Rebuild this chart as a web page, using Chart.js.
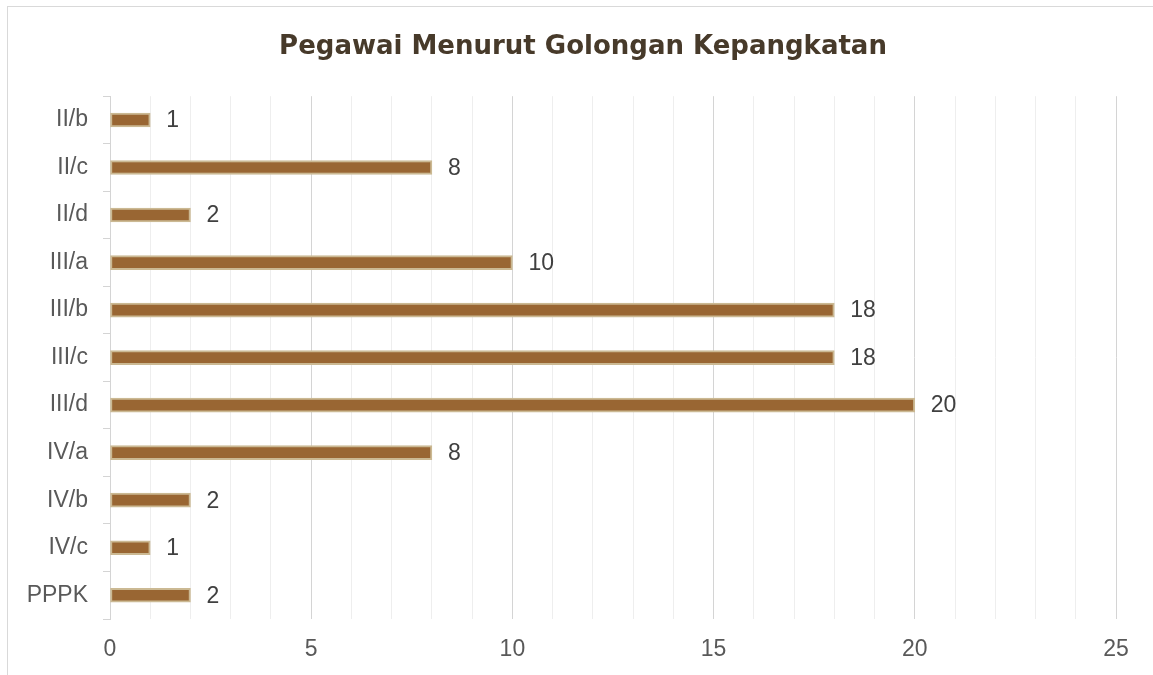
<!DOCTYPE html>
<html>
<head>
<meta charset="utf-8">
<script src="https://cdn.jsdelivr.net/npm/chart.js@4.4.1/dist/chart.umd.min.js"></script>
<style>
	html, body { margin: 0; padding: 0; background: #fff; overflow: hidden; }
	#frame { position: absolute; left: 7px; top: 6px; width: 1300px; height: 800px;
		border-top: 1px solid #d9d9d9; border-left: 1px solid #d9d9d9; }
	#wrap { position: absolute; left: 0; top: 0; width: 1153px; height: 675px; }
</style>
</head>
<body>
<div id="frame"></div>
<div id="wrap"><canvas id="myChart"></canvas></div>
<script>
// data
var golongan = ["II/b", "II/c", "II/d", "III/a", "III/b", "III/c", "III/d", "IV/a", "IV/b", "IV/c", "PPPK"];
var jumlah = [1, 8, 2, 10, 18, 18, 20, 8, 2, 1, 2];
var judul = "Pegawai Menurut Golongan Kepangkatan";
var xMax = 25;

// draws the value just right of each bar
const valueLabels = {
	id: 'valueLabels',
	afterLayout(c) {
		// centre the title on the whole frame, not on the padded area
		if (c.titleBlock) {
			c.titleBlock.left = 13;
			c.titleBlock.right = 1153;
		}
	},
	afterDatasetsDraw(c) {
		const ctx = c.ctx;
		const meta = c.getDatasetMeta(0);
		ctx.save();
		ctx.font = '23px "Liberation Sans", Arial, sans-serif';
		ctx.fillStyle = '#404040';
		ctx.textAlign = 'left';
		ctx.textBaseline = 'middle';
		meta.data.forEach(function(bar, i) {
			ctx.fillText(String(jumlah[i]), bar.x + 16, bar.y + 1);
		});
		ctx.restore();
	}
};

new Chart(document.getElementById('myChart'), {
	type: 'bar',
	data: {
		labels: golongan,
		datasets: [{
			data: jumlah,
			backgroundColor: '#996633',
			borderColor: '#cbb993',
			borderWidth: 2,
			borderSkipped: false,
			barThickness: 14
		}]
	},
	options: {
		indexAxis: 'y',
		responsive: true,
		maintainAspectRatio: false,
		animation: false,
		layout: { padding: { left: 0, right: 37, top: 0, bottom: 0 } },
		plugins: {
			legend: { display: false },
			tooltip: { enabled: false },
			title: {
				display: true,
				text: judul,
				color: '#473a2a',
				font: { family: '"DejaVu Sans", sans-serif', size: 26, weight: 'bold' },
				padding: { top: 32, bottom: 33 }
			}
		},
		scales: {
			x: {
				min: 0,
				max: xMax,
				afterFit: function(s) { s.height = 56; },
				border: { display: false },
				grid: {
					drawTicks: false,
					color: function(ctx) {
						return ctx.tick && ctx.tick.value % 5 === 0 ? '#d4d4d4' : '#eeeeee';
					}
				},
				ticks: {
					stepSize: 1,
					padding: 17,
					color: '#595959',
					font: { family: '"Liberation Sans", Arial, sans-serif', size: 23 },
					callback: function(v) { return v % 5 === 0 ? v : ''; }
				}
			},
			y: {
				afterFit: function(s) { s.width = 110; },
				border: { display: true, color: '#d4d4d4' },
				grid: {
					offset: true,
					drawOnChartArea: false,
					tickLength: 7,
					color: '#d4d4d4'
				},
				ticks: {
					padding: 15,
					color: '#595959',
					font: { family: '"Liberation Sans", Arial, sans-serif', size: 23 }
				}
			}
		}
	},
	plugins: [valueLabels]
});
</script>
</body>
</html>
